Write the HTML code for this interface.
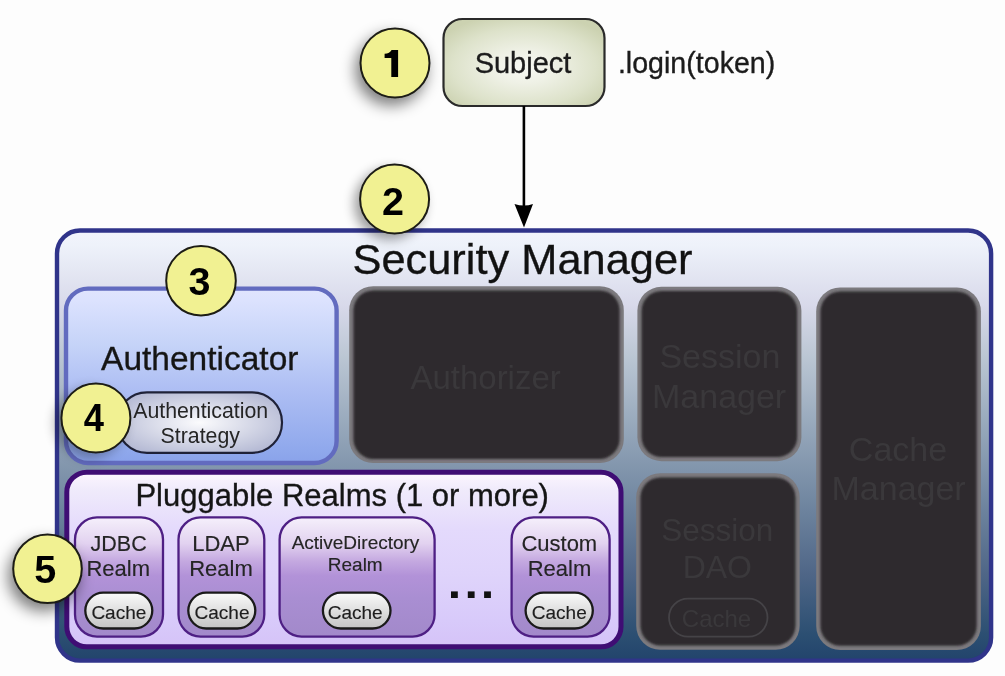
<!DOCTYPE html>
<html><head><meta charset="utf-8">
<style>
html,body{margin:0;padding:0;background:#fdfdfd;width:1005px;height:676px;overflow:hidden}
svg{display:block}
text{font-family:"Liberation Sans",sans-serif}
.tk{stroke:#1c1c1c;stroke-width:0.35px}
svg{filter:blur(0.7px)}
</style></head>
<body>
<svg width="1005" height="676" viewBox="0 0 1005 676">
<defs>
  <linearGradient id="gOuter" gradientUnits="userSpaceOnUse" x1="0" y1="230" x2="0" y2="660">
    <stop offset="0" stop-color="#f2f4fc"/>
    <stop offset="0.035" stop-color="#eef2fa"/>
    <stop offset="0.175" stop-color="#d8d9ea"/>
    <stop offset="0.29" stop-color="#bcc7d4"/>
    <stop offset="0.45" stop-color="#98a9bc"/>
    <stop offset="0.636" stop-color="#7086a0"/>
    <stop offset="0.8" stop-color="#4f6687"/>
    <stop offset="0.94" stop-color="#2c4f72"/>
    <stop offset="1" stop-color="#22446c"/>
  </linearGradient>
  <linearGradient id="gAuth" gradientUnits="userSpaceOnUse" x1="0" y1="290" x2="0" y2="463">
    <stop offset="0" stop-color="#e0e4fd"/>
    <stop offset="0.06" stop-color="#dce2fe"/>
    <stop offset="0.32" stop-color="#c5d3f8"/>
    <stop offset="0.55" stop-color="#b0c0f4"/>
    <stop offset="0.93" stop-color="#8fa8ec"/>
    <stop offset="1" stop-color="#8aa2ea"/>
  </linearGradient>
  <radialGradient id="gSubject" cx="0.5" cy="0.55" r="0.62">
    <stop offset="0" stop-color="#f8f9f4"/>
    <stop offset="0.3" stop-color="#eff1e6"/>
    <stop offset="0.72" stop-color="#dde2ca"/>
    <stop offset="1" stop-color="#ccd2b1"/>
  </radialGradient>
  <radialGradient id="gStrat" cx="0.5" cy="0.5" r="0.6">
    <stop offset="0" stop-color="#fbfbfd"/>
    <stop offset="1" stop-color="#b3b8d3"/>
  </radialGradient>
  <linearGradient id="gPlug" gradientUnits="userSpaceOnUse" x1="0" y1="474" x2="0" y2="646">
    <stop offset="0" stop-color="#fbf5fe"/>
    <stop offset="0.09" stop-color="#f0ebfb"/>
    <stop offset="0.32" stop-color="#e4dafc"/>
    <stop offset="0.58" stop-color="#dfd4fb"/>
    <stop offset="0.85" stop-color="#d8cafa"/>
    <stop offset="1" stop-color="#d5c3f8"/>
  </linearGradient>
  <linearGradient id="gRealm" gradientUnits="userSpaceOnUse" x1="0" y1="517" x2="0" y2="637">
    <stop offset="0" stop-color="#f6f0fc"/>
    <stop offset="0.06" stop-color="#f0e8f8"/>
    <stop offset="0.22" stop-color="#e2d2f0"/>
    <stop offset="0.37" stop-color="#c4a8e0"/>
    <stop offset="0.49" stop-color="#b292d8"/>
    <stop offset="0.68" stop-color="#a98ed2"/>
    <stop offset="1" stop-color="#a289ca"/>
  </linearGradient>
  <linearGradient id="gCache" x1="0" y1="0" x2="0" y2="1">
    <stop offset="0" stop-color="#fafafa"/>
    <stop offset="1" stop-color="#c4c4c4"/>
  </linearGradient>
  <filter id="shadow" x="-50%" y="-50%" width="200%" height="200%">
    <feGaussianBlur in="SourceAlpha" stdDeviation="7.5"/>
    <feOffset dx="-4" dy="7" result="b"/>
    <feComponentTransfer><feFuncA type="linear" slope="0.52"/></feComponentTransfer>
    <feMerge><feMergeNode/><feMergeNode in="SourceGraphic"/></feMerge>
  </filter>
  <filter id="shadow3" x="-50%" y="-50%" width="200%" height="200%">
    <feGaussianBlur in="SourceAlpha" stdDeviation="6"/>
    <feOffset dx="-5" dy="5" result="b"/>
    <feComponentTransfer><feFuncA type="linear" slope="0.38"/></feComponentTransfer>
    <feMerge><feMergeNode/><feMergeNode in="SourceGraphic"/></feMerge>
  </filter>
  <filter id="soft" x="-10%" y="-10%" width="120%" height="120%">
    <feGaussianBlur stdDeviation="1.2"/>
  </filter>
  <filter id="shadow2" x="-50%" y="-50%" width="200%" height="200%">
    <feGaussianBlur in="SourceAlpha" stdDeviation="6"/>
    <feOffset dx="-6" dy="5" result="b"/>
    <feComponentTransfer><feFuncA type="linear" slope="0.3"/></feComponentTransfer>
    <feMerge><feMergeNode/><feMergeNode in="SourceGraphic"/></feMerge>
  </filter>
</defs>

<!-- Subject -->
<rect x="443.5" y="19" width="161" height="87" rx="19" fill="url(#gSubject)" stroke="#2a2a2a" stroke-width="2.2"/>
<text class="tk" x="523" y="72.8" font-size="29" text-anchor="middle" fill="#1c1c1c">Subject</text>
<text class="tk" x="696.6" y="73.2" font-size="28.6" text-anchor="middle" fill="#1c1c1c">.login(token)</text>

<!-- arrow -->
<line x1="523.9" y1="106" x2="523.9" y2="210" stroke="#000" stroke-width="2.6"/>
<path d="M514.5 204 Q524 207 533 204 L524 227.5 Z" fill="#000"/>

<!-- Security manager -->
<rect x="57" y="230.5" width="934.1" height="430.1" rx="23" fill="url(#gOuter)" stroke="#30348a" stroke-width="4.4"/>
<text class="tk" x="522.5" y="273.7" font-size="43.4" text-anchor="middle" fill="#111">Security Manager</text>

<!-- Authenticator -->
<rect x="66" y="288.6" width="270.6" height="174.4" rx="22" fill="url(#gAuth)" stroke="#626bbf" stroke-width="4.4"/>
<text class="tk" x="199.75" y="370" font-size="33.5" text-anchor="middle" fill="#151515">Authenticator</text>
<rect x="117" y="392.3" width="165" height="60.5" rx="30" fill="url(#gStrat)" stroke="#1f2238" stroke-width="2.2"/>
<text x="200.7" y="418.2" font-size="21.3" text-anchor="middle" fill="#252525">Authentication</text>
<text x="200.25" y="442.6" font-size="21.3" text-anchor="middle" fill="#252525">Strategy</text>

<!-- dark boxes -->
<g>
  <rect x="349.2" y="286.2" width="274.6" height="176.9" rx="24" fill="#7c7a7e"/>
  <rect x="637.4" y="286.8" width="164.0" height="174.4" rx="24" fill="#7c7a7e"/>
  <rect x="816.2" y="287.4" width="164.7" height="362.6" rx="24" fill="#7c7a7e"/>
  <rect x="636.2" y="473.2" width="163.5" height="176.6" rx="24" fill="#7c7a7e"/>
</g>
<g fill="#2e2c2d" filter="url(#soft)">
  <rect x="353.4" y="290.4" width="266.2" height="168.5" rx="20"/>
  <rect x="641.6" y="291.0" width="155.6" height="166.0" rx="20"/>
  <rect x="820.4" y="291.6" width="156.3" height="354.2" rx="20"/>
  <rect x="640.4" y="477.4" width="155.1" height="168.2" rx="20"/>
</g>
<g fill="#3a383b">
  <text x="485.6" y="389.4" font-size="33" text-anchor="middle">Authorizer</text>
  <text x="719.9" y="367.6" font-size="34" text-anchor="middle">Session</text>
  <text x="719.1" y="407.6" font-size="34" text-anchor="middle">Manager</text>
  <text x="898" y="460.6" font-size="34" text-anchor="middle">Cache</text>
  <text x="898.6" y="499.6" font-size="34" text-anchor="middle">Manager</text>
  <text x="717.2" y="540.5" font-size="31.5" text-anchor="middle">Session</text>
  <text x="717.3" y="578.3" font-size="32" text-anchor="middle">DAO</text>
  <text x="716.5" y="626.6" font-size="24" text-anchor="middle">Cache</text>
</g>
<rect x="669" y="598.6" width="98.5" height="38" rx="19" fill="none" stroke="#454347" stroke-width="1.8"/>

<!-- Pluggable realms -->
<rect x="66.8" y="472.2" width="554.2" height="174.6" rx="20" fill="url(#gPlug)" stroke="#3f0d74" stroke-width="5"/>
<text class="tk" x="342.2" y="506.4" font-size="31" text-anchor="middle" fill="#151515">Pluggable Realms (1 or more)</text>

<g fill="url(#gRealm)" stroke="#4e1f84" stroke-width="2.3">
  <rect x="75" y="517.4" width="88" height="119.2" rx="22"/>
  <rect x="178.5" y="517.4" width="85.8" height="119.2" rx="22"/>
  <rect x="279.6" y="517.4" width="155" height="119.2" rx="22"/>
  <rect x="511.6" y="517.4" width="98" height="119.2" rx="22"/>
</g>
<g fill="#252525" text-anchor="middle" stroke="#252525" stroke-width="0.15">
  <text x="118.6" y="550.9" font-size="21.5">JDBC</text>
  <text x="118.2" y="576.2" font-size="22">Realm</text>
  <text x="221" y="550.9" font-size="22">LDAP</text>
  <text x="221" y="576.2" font-size="22">Realm</text>
  <text x="355.5" y="549.3" font-size="19">ActiveDirectory</text>
  <text x="355.25" y="571" font-size="19">Realm</text>
  <text x="559.3" y="550.9" font-size="22">Custom</text>
  <text x="559.5" y="576.2" font-size="22">Realm</text>
</g>
<g fill="url(#gCache)" stroke="#1a1a1a" stroke-width="2.3">
  <rect x="85.3" y="592.7" width="67" height="35.8" rx="17.9"/>
  <rect x="188.3" y="592.7" width="67" height="35.8" rx="17.9"/>
  <rect x="322.9" y="592.7" width="67.6" height="35.8" rx="17.9"/>
  <rect x="525.6" y="592.7" width="67.2" height="35.8" rx="17.9"/>
</g>
<g fill="#1e1e1e" text-anchor="middle" font-size="19" stroke="#1e1e1e" stroke-width="0.15">
  <text x="118.85" y="618.6">Cache</text>
  <text x="222" y="618.6">Cache</text>
  <text x="355.2" y="618.6">Cache</text>
  <text x="559.3" y="618.6">Cache</text>
</g>
<g fill="#111">
  <rect x="451" y="591.4" width="6.8" height="6.6"/>
  <rect x="467.8" y="591.4" width="6.8" height="6.6"/>
  <rect x="484.1" y="591.4" width="6.8" height="6.6"/>
</g>

<!-- circles -->
<g fill="#f1f192" stroke="#1c1c14" stroke-width="2" filter="url(#shadow)">
  <circle cx="395" cy="63" r="34.5"/>
  <circle cx="47.5" cy="568.7" r="34.3"/>
</g>
<circle cx="201" cy="280.7" r="34.8" fill="#f1f192" stroke="#1c1c14" stroke-width="2"/>
<circle cx="394.6" cy="199" r="34.5" fill="#f1f192" stroke="#1c1c14" stroke-width="2" filter="url(#shadow3)"/>
<circle cx="95.9" cy="418" r="34.5" fill="#f1f192" stroke="#1c1c14" stroke-width="2" filter="url(#shadow2)"/>
<path d="M391.6 50 L398.1 50 L398.1 77 L391.3 77 L391.3 58 L384.6 58 L384.6 53.8 Q389.8 53.5 391.6 50 Z" fill="#000"/>
<g fill="#000" font-weight="bold" font-size="39.5" text-anchor="middle">
  <text x="393.1" y="214.7">2</text>
  <text x="199.5" y="295.3">3</text>
  <text x="93.9" y="431.3" transform="translate(93.9 0) scale(0.92 1) translate(-93.9 0)">4</text>
  <text x="45.3" y="582.6">5</text>
</g>
</svg>
</body></html>
